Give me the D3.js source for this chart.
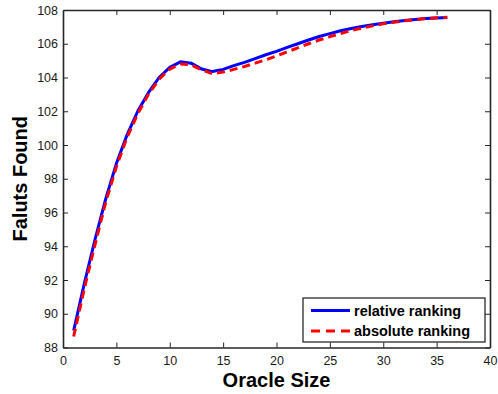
<!DOCTYPE html>
<html>
<head>
<meta charset="utf-8">
<script src="https://cdn.jsdelivr.net/npm/d3@7"></script>
<style>
  html, body { margin: 0; padding: 0; background: #fff; }
  svg { display: block; font-family: "Liberation Sans", Arial, Helvetica, sans-serif; }
</style>
</head>
<body>
<svg id="chart" width="498" height="394"></svg>
<script>
// Oracle sizes evaluated
const oracleSize = d3.range(1, 37);

// Faults found with the relative ranking strategy
const relativeRanking = [
  89.0, 91.8, 94.4, 96.8, 98.9, 100.6, 102.0, 103.1, 104.0, 104.6,
  104.93, 104.85, 104.5, 104.35, 104.48, 104.7, 104.9, 105.12, 105.35, 105.55,
  105.78, 106.0, 106.22, 106.43, 106.6, 106.77, 106.9, 107.02, 107.12, 107.22,
  107.3, 107.38, 107.44, 107.5, 107.53, 107.56
];

// Faults found with the absolute ranking strategy
const absoluteRanking = [
  88.65, 91.5, 94.1, 96.6, 98.7, 100.45, 101.85, 103.0, 103.9, 104.5,
  104.8, 104.75, 104.45, 104.22, 104.32, 104.48, 104.65, 104.85, 105.05, 105.28,
  105.52, 105.76, 106.0, 106.22, 106.42, 106.6, 106.78, 106.93, 107.06, 107.18,
  107.28, 107.36, 107.43, 107.5, 107.54, 107.57
];

const xTicks = [0, 5, 10, 15, 20, 25, 30, 35, 40];
const yTicks = [88, 90, 92, 94, 96, 98, 100, 102, 104, 106, 108];

const seriesNames = ["relative ranking", "absolute ranking"];
const seriesColors = ["#0000ff", "#ff0000"];
const seriesDash = [null, "8,5"];

const svg = d3.select("#chart");
const plot = { left: 63, top: 10, right: 490, bottom: 347.5 };

const x = d3.scaleLinear().domain([0, 40]).range([plot.left, plot.right]);
const y = d3.scaleLinear().domain([88, 108]).range([plot.bottom, plot.top]);

const axisColor = "#262626";
const tickLen = 5;

// Axes with inward ticks, mirrored on top and right (boxed frame)
const gx = svg.append("g").attr("transform", `translate(0,${plot.bottom})`)
  .call(d3.axisBottom(x).tickValues(xTicks).tickSizeInner(-tickLen).tickSizeOuter(0).tickPadding(9));
const gxTop = svg.append("g").attr("transform", `translate(0,${plot.top})`)
  .call(d3.axisTop(x).tickValues(xTicks).tickSizeInner(-tickLen).tickSizeOuter(0).tickFormat(""));
const gy = svg.append("g").attr("transform", `translate(${plot.left},0)`)
  .call(d3.axisLeft(y).tickValues(yTicks).tickSizeInner(-tickLen).tickSizeOuter(0).tickPadding(5));
const gyRight = svg.append("g").attr("transform", `translate(${plot.right},0)`)
  .call(d3.axisRight(y).tickValues(yTicks).tickSizeInner(-tickLen).tickSizeOuter(0).tickFormat(""));

[gx, gxTop, gy, gyRight].forEach(g => {
  g.select(".domain").attr("stroke", axisColor).attr("stroke-width", 1.6);
  g.selectAll(".tick line").attr("stroke", axisColor).attr("stroke-width", 1);
  g.selectAll(".tick text").attr("fill", "#1a1a1a").style("font-size", "12.5px");
});

// Curves
const line = d3.line().x((d, i) => x(oracleSize[i])).y(d => y(d));
[relativeRanking, absoluteRanking].forEach((vals, k) => {
  svg.append("path")
    .datum(vals)
    .attr("fill", "none")
    .attr("stroke", seriesColors[k])
    .attr("stroke-width", 3)
    .attr("stroke-dasharray", seriesDash[k])
    .attr("stroke-linejoin", "round")
    .attr("d", line);
});

// Axis titles
svg.append("text")
  .attr("x", (plot.left + plot.right) / 2)
  .attr("y", 387)
  .attr("text-anchor", "middle")
  .style("font-size", "20px")
  .style("font-weight", "bold")
  .attr("fill", "#000")
  .text("Oracle Size");

svg.append("text")
  .attr("transform", `translate(27,${(plot.top + plot.bottom) / 2}) rotate(-90)`)
  .attr("text-anchor", "middle")
  .style("font-size", "20px")
  .style("font-weight", "bold")
  .attr("fill", "#000")
  .text("Faluts Found");

// Legend
const legend = svg.append("g");
legend.append("rect")
  .attr("x", 303).attr("y", 298)
  .attr("width", 182).attr("height", 44)
  .attr("fill", "#fff")
  .attr("stroke", "#1a1a1a")
  .attr("stroke-width", 1.2);

seriesNames.forEach((name, k) => {
  const ly = 310.5 + k * 20.5;
  legend.append("line")
    .attr("x1", 311).attr("x2", 350)
    .attr("y1", ly).attr("y2", ly)
    .attr("stroke", seriesColors[k])
    .attr("stroke-width", 3)
    .attr("stroke-dasharray", k === 1 ? "9,6" : null);
  legend.append("text")
    .attr("x", 354).attr("y", ly + 5)
    .style("font-size", "14.5px")
    .style("font-weight", "bold")
    .attr("fill", "#000")
    .text(name);
});
</script>
</body>
</html>
